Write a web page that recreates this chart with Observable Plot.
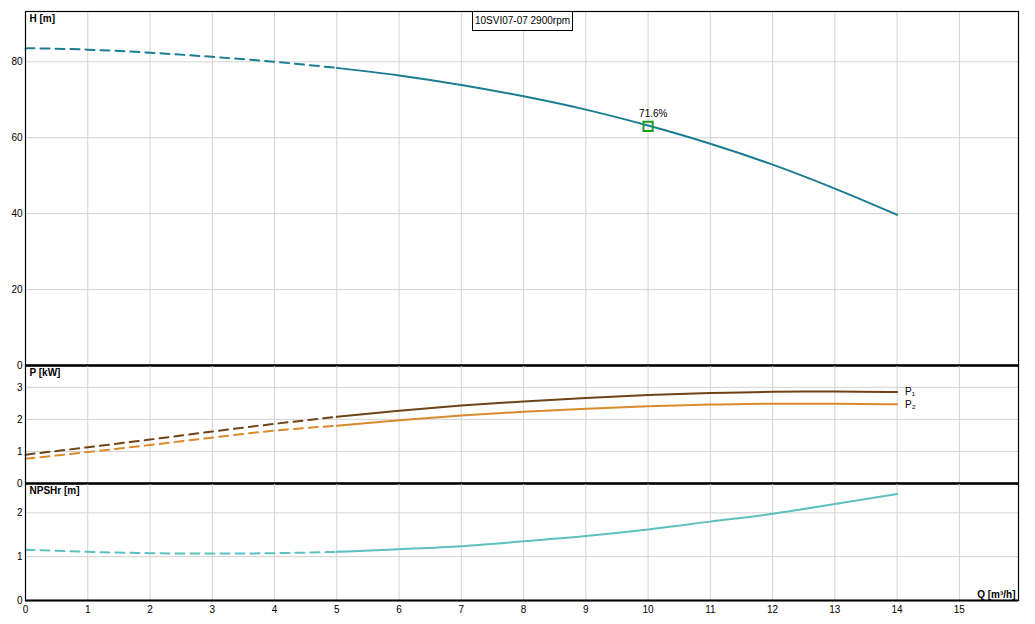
<!DOCTYPE html>
<html>
<head>
<meta charset="utf-8">
<script src="https://cdn.jsdelivr.net/npm/d3@7"></script>
<script src="https://cdn.jsdelivr.net/npm/@observablehq/plot@0.6"></script>
<style>
  html, body { margin: 0; padding: 0; background: white; }
  #chart { position: relative; width: 1035px; height: 624px; font-family: "Liberation Sans", Arial, sans-serif; }
  #chart svg { display: block; }
  #title { position: absolute; left: 472px; top: 11px; width: 99px; height: 18px; border: 1px solid black; background: white;
           font: 10px "Liberation Sans", Arial, sans-serif; text-align: center; line-height: 18px; }
</style>
</head>
<body>
<div id="chart"><div id="title">10SVI07-07 2900rpm</div></div>
<script>
// ---- data ----
const Q    = [0, 1, 2, 3, 4, 5, 6, 7, 8, 9, 10, 11, 12, 13, 14];
const H    = [83.6, 83.2, 82.4, 81.3, 80.0, 78.4, 76.4, 73.9, 70.9, 67.4, 63.2, 58.4, 52.9, 46.6, 39.7];
const P1   = [0.90, 1.13, 1.37, 1.62, 1.86, 2.08, 2.27, 2.43, 2.56, 2.67, 2.76, 2.82, 2.86, 2.87, 2.85];
const P2   = [0.77, 0.98, 1.20, 1.43, 1.65, 1.80, 1.97, 2.12, 2.24, 2.33, 2.41, 2.46, 2.49, 2.49, 2.47];
const NPSH = [1.16, 1.11, 1.08, 1.07, 1.08, 1.11, 1.17, 1.24, 1.35, 1.47, 1.62, 1.80, 1.98, 2.20, 2.43];
const dashedEnd = 5;
const bep = {q: 10, h: 63.0, label: "71.6%"};
const xTicks = [0, 1, 2, 3, 4, 5, 6, 7, 8, 9, 10, 11, 12, 13, 14, 15];
const xGrid = [1, 2, 3, 4, 5, 6, 7, 8, 9, 10, 11, 12, 13, 14, 15];
const hTicks = [0, 20, 40, 60, 80];
const pTicks = [0, 1, 2, 3];
const nTicks = [0, 1, 2];
const xDomain = [0, 15.95];

const rows = Q.map((q, i) => ({q, h: H[i], p1: P1[i], p2: P2[i], n: NPSH[i]}));
const dashed = rows.filter(d => d.q <= dashedEnd);
const solid = rows.filter(d => d.q >= dashedEnd);
const last = rows[rows.length - 1];

const colH = "#1b7d93", colP1 = "#6e4417", colP2 = "#d88a2c", colN = "#5cc0c0";
const gridCol = "#d2d2d2";
const dash = "9,6";
const fmt = d => String(d);
const style = {fontSize: "10px", fontFamily: "'Liberation Sans', Arial, sans-serif", background: "transparent", overflow: "visible", color: "black"};
const common = {width: 1035, marginLeft: 25, marginRight: 17, style};

function panelLabel(txt) {
  return Plot.text([txt], {text: d => d, frameAnchor: "top-left", dx: 4, dy: 3, textAnchor: "start", lineAnchor: "top", fontWeight: "bold", fontSize: 10});
}

const chart = document.getElementById("chart");

// Panel 1: H
const p1 = Plot.plot({
  ...common, height: 365, marginTop: 11, marginBottom: 0,
  x: {domain: xDomain, axis: null},
  y: {domain: [0, 93.25], ticks: hTicks, tickFormat: fmt, tickSize: 0, tickPadding: 3, label: null},
  marks: [
    Plot.ruleX(xGrid, {stroke: gridCol}),
    Plot.ruleY(hTicks.filter(t => t > 0), {stroke: gridCol}),
    Plot.line(dashed, {x: "q", y: "h", stroke: colH, strokeWidth: 2, strokeDasharray: dash, curve: "monotone-x"}),
    Plot.line(solid, {x: "q", y: "h", stroke: colH, strokeWidth: 2, curve: "monotone-x"}),
    Plot.dot([bep], {x: "q", y: "h", symbol: "square", r: 5.2, stroke: "#1f9e1f", strokeWidth: 2, fill: "none"}),
    Plot.text([bep], {x: "q", y: "h", text: "label", dx: -9, dy: -13, textAnchor: "start", fontSize: 10}),
    Plot.frame({stroke: "black", strokeWidth: 1.2}),
    Plot.ruleY([0], {stroke: "black", strokeWidth: 2.5}),
    panelLabel("H [m]")
  ]
});
chart.appendChild(p1);

// Panel 2: P
const p2 = Plot.plot({
  ...common, height: 118, marginTop: 0, marginBottom: 0,
  x: {domain: xDomain, axis: null},
  y: {domain: [0, 3.68], ticks: pTicks, tickFormat: fmt, tickSize: 0, tickPadding: 3, label: null},
  marks: [
    Plot.ruleX(xGrid, {stroke: gridCol}),
    Plot.ruleY(pTicks.filter(t => t > 0), {stroke: gridCol}),
    Plot.line(dashed, {x: "q", y: "p1", stroke: colP1, strokeWidth: 2, strokeDasharray: dash, curve: "monotone-x"}),
    Plot.line(dashed, {x: "q", y: "p2", stroke: colP2, strokeWidth: 2, strokeDasharray: dash, curve: "monotone-x"}),
    Plot.line(solid, {x: "q", y: "p1", stroke: colP1, strokeWidth: 2, curve: "monotone-x"}),
    Plot.line(solid, {x: "q", y: "p2", stroke: colP2, strokeWidth: 2, curve: "monotone-x"}),
    Plot.text([last], {x: "q", y: "p1", text: () => "P\u2081", dx: 8, dy: 0, textAnchor: "start", fontSize: 10}),
    Plot.text([last], {x: "q", y: "p2", text: () => "P\u2082", dx: 8, dy: 0, textAnchor: "start", fontSize: 10}),
    Plot.frame({stroke: "black", strokeWidth: 1.2}),
    Plot.ruleY([0], {stroke: "black", strokeWidth: 2.5}),
    panelLabel("P [kW]")
  ]
});
chart.appendChild(p2);

// Panel 3: NPSHr
const p3 = Plot.plot({
  ...common, height: 141, marginTop: 0, marginBottom: 24,
  x: {domain: xDomain, ticks: xTicks, tickFormat: fmt, tickSize: 0, tickPadding: 5, label: null},
  y: {domain: [0, 2.67], ticks: nTicks, tickFormat: fmt, tickSize: 0, tickPadding: 3, label: null},
  marks: [
    Plot.ruleX(xGrid, {stroke: gridCol}),
    Plot.ruleY(nTicks.filter(t => t > 0), {stroke: gridCol}),
    Plot.line(dashed, {x: "q", y: "n", stroke: colN, strokeWidth: 2, strokeDasharray: dash, curve: "monotone-x"}),
    Plot.line(solid, {x: "q", y: "n", stroke: colN, strokeWidth: 2, curve: "monotone-x"}),
    Plot.frame({stroke: "black", strokeWidth: 1.2}),
    Plot.ruleY([0], {stroke: "black", strokeWidth: 2}),
    panelLabel("NPSHr [m]"),
    Plot.text(["Q [m\u00b3/h]"], {text: d => d, frameAnchor: "bottom-right", dx: -3, dy: -3, textAnchor: "end", lineAnchor: "bottom", fontWeight: "bold", fontSize: 10})
  ]
});
chart.appendChild(p3);
</script>
</body>
</html>
